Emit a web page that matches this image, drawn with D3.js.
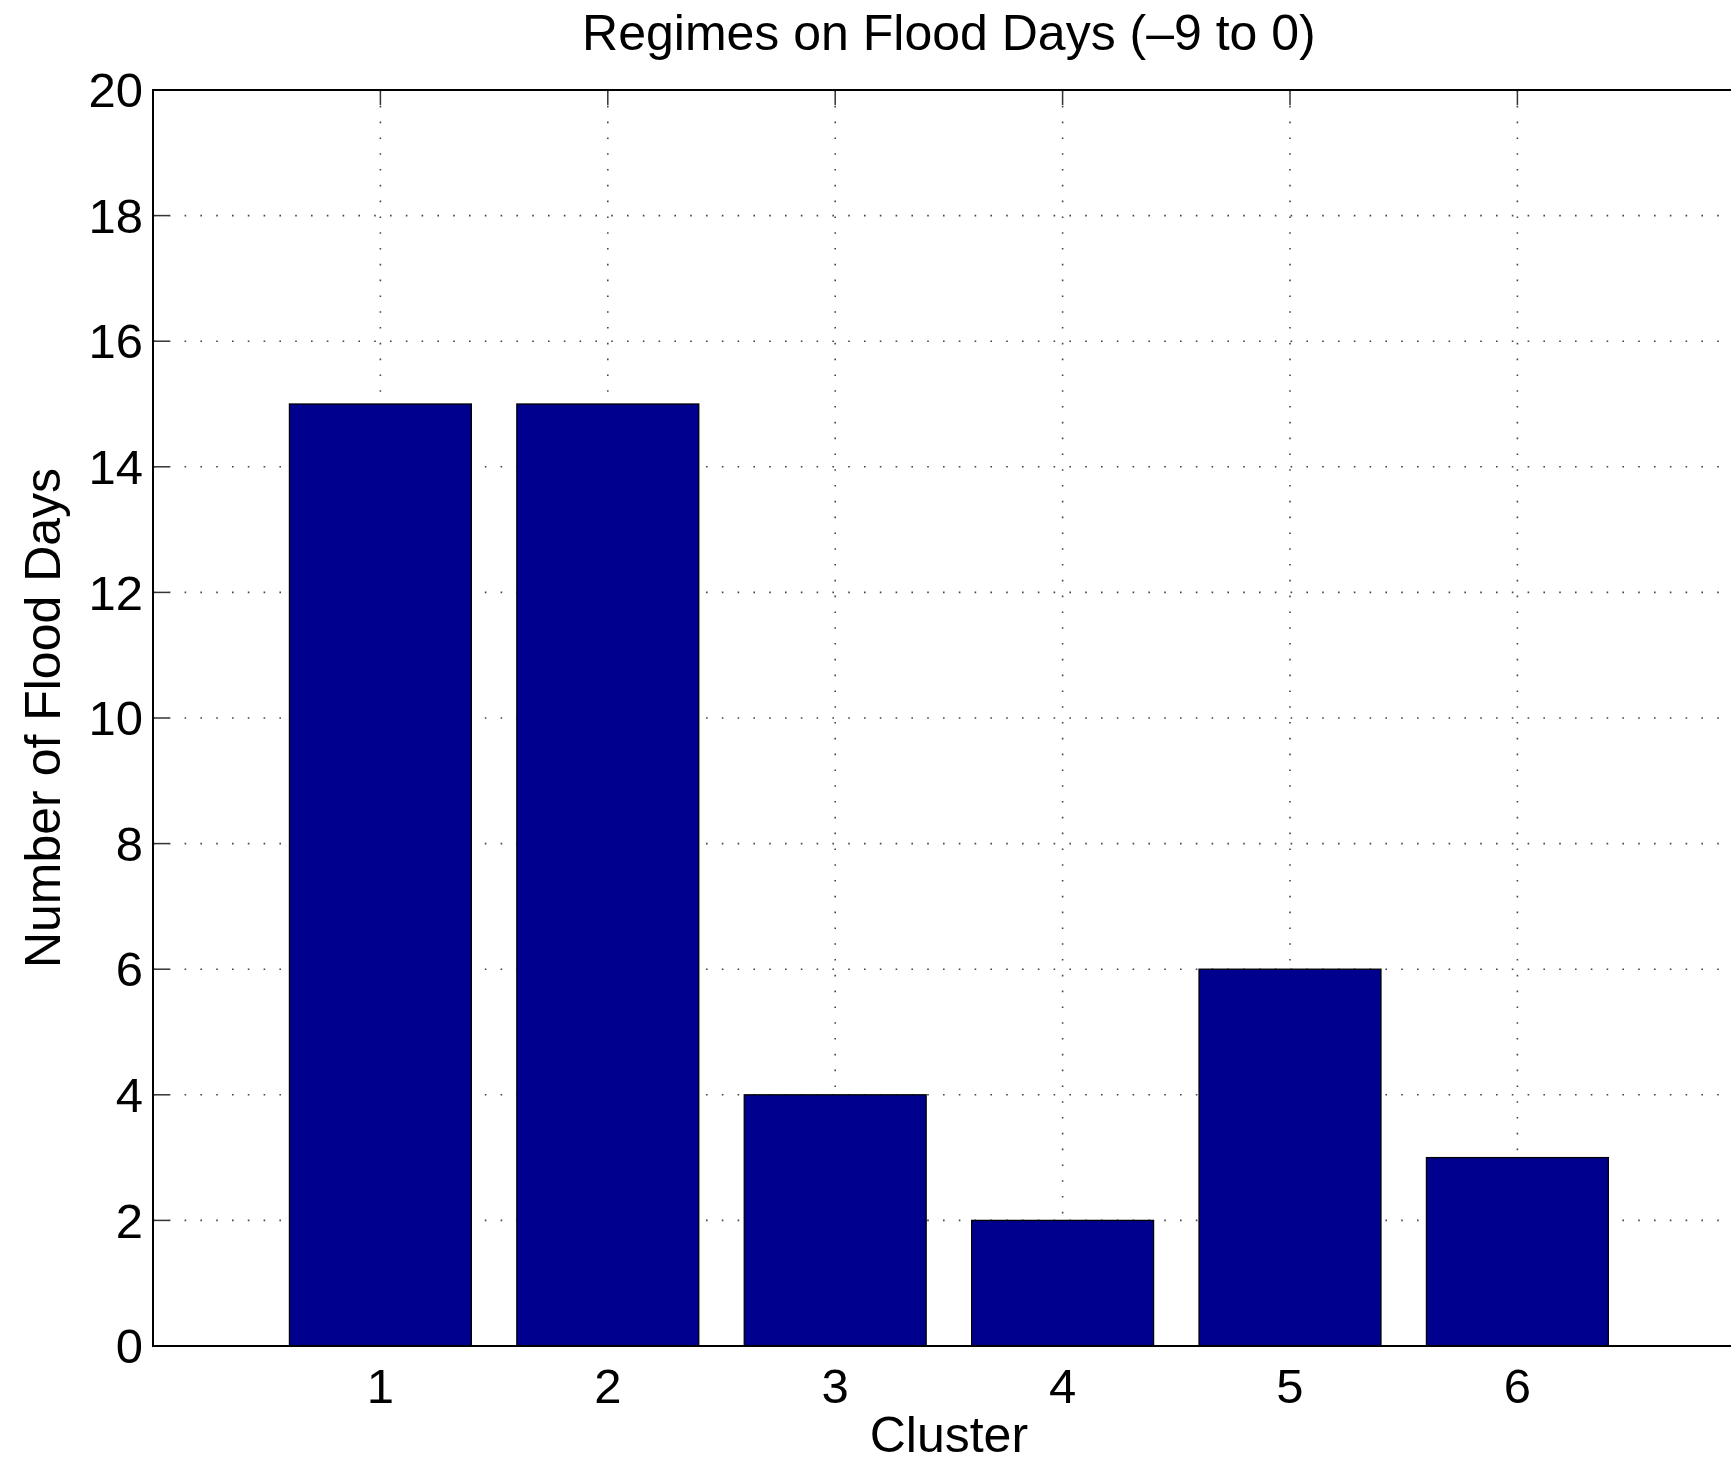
<!DOCTYPE html>
<html>
<head>
<meta charset="utf-8">
<script src="https://cdn.jsdelivr.net/npm/d3@7"></script>
<style>
html,body{margin:0;padding:0;background:#fff;overflow:hidden;}
text{font-family:"Liberation Sans",Arial,Helvetica,sans-serif;fill:#000;}
</style>
</head>
<body>
<svg id="chart" width="1731" height="1459"></svg>
<script>
const categories = [1, 2, 3, 4, 5, 6];
const values = [15, 15, 4, 2, 6, 3];
const yTicks = [0, 2, 4, 6, 8, 10, 12, 14, 16, 18, 20];
const title = "Regimes on Flood Days (\u20139 to 0)";
const xLabel = "Cluster";
const yLabel = "Number of Flood Days";

const W = 1731, H = 1459;
const pLeft = 153, pTop = 90, pBottom = 1346;
const unit = 227.4;
const pRight = pLeft + 7 * unit;

const svg = d3.select("#chart");
const x = d3.scaleLinear().domain([0, 7]).range([pLeft, pRight]);
const y = d3.scaleLinear().domain([0, 20]).range([pBottom, pTop]);
const barW = 0.8;

// grid
const grid = svg.append("g");
grid.selectAll("line.h").data(yTicks.filter(d => d > 0 && d < 20)).enter().append("line")
  .attr("x1", pLeft).attr("x2", pRight)
  .attr("y1", d => y(d)).attr("y2", d => y(d))
  .attr("stroke", "#444").attr("stroke-width", 1.6).attr("stroke-dasharray", "1.6,14.2");
grid.selectAll("line.v").data(categories).enter().append("line")
  .attr("x1", d => x(d)).attr("x2", d => x(d))
  .attr("y1", pTop).attr("y2", pBottom)
  .attr("stroke", "#444").attr("stroke-width", 1.6).attr("stroke-dasharray", "1.6,14.2");

// ticks (inward), top, bottom and left
const tk = svg.append("g");
tk.selectAll("line.t").data(categories).enter().append("line")
  .attr("x1", d => x(d)).attr("x2", d => x(d))
  .attr("y1", pTop).attr("y2", pTop + 15)
  .attr("stroke", "#333").attr("stroke-width", 1.5);
tk.selectAll("line.b").data(categories).enter().append("line")
  .attr("x1", d => x(d)).attr("x2", d => x(d))
  .attr("y1", pBottom).attr("y2", pBottom - 15)
  .attr("stroke", "#333").attr("stroke-width", 1.5);
tk.selectAll("line.l").data(yTicks).enter().append("line")
  .attr("x1", pLeft).attr("x2", pLeft + 16)
  .attr("y1", d => y(d)).attr("y2", d => y(d))
  .attr("stroke", "#333").attr("stroke-width", 1.5);

// bars
svg.append("g").selectAll("rect").data(values).enter().append("rect")
  .attr("x", (d, i) => x(categories[i] - barW / 2))
  .attr("width", x(barW) - x(0))
  .attr("y", d => y(d))
  .attr("height", d => y(0) - y(d))
  .attr("fill", "rgb(0,0,143)")
  .attr("stroke", "#000").attr("stroke-width", 1.3);

// axis box lines
const box = [[pLeft, pTop, pRight, pTop], [pLeft, pBottom, pRight, pBottom],
             [pLeft, pTop, pLeft, pBottom], [pRight, pTop, pRight, pBottom]];
svg.append("g").selectAll("line").data(box).enter().append("line")
  .attr("x1", d => d[0]).attr("y1", d => d[1]).attr("x2", d => d[2]).attr("y2", d => d[3])
  .attr("stroke", "#000").attr("stroke-width", 2).attr("stroke-linecap", "square");

// tick labels
svg.append("g").selectAll("text").data(yTicks).enter().append("text")
  .attr("x", pLeft - 10).attr("y", d => y(d)).attr("dy", "0.35em")
  .attr("text-anchor", "end").attr("font-size", 49).text(d => d);
svg.append("g").selectAll("text").data(categories).enter().append("text")
  .attr("x", d => x(d)).attr("y", 1403)
  .attr("text-anchor", "middle").attr("font-size", 49).text(d => d);

// labels
svg.append("text").attr("x", (pLeft + pRight) / 2).attr("y", 1452)
  .attr("text-anchor", "middle").attr("font-size", 50).text(xLabel);
svg.append("text").attr("transform", `translate(60,${(pTop + pBottom) / 2}) rotate(-90)`)
  .attr("text-anchor", "middle").attr("font-size", 50).text(yLabel);
svg.append("text").attr("x", (pLeft + pRight) / 2).attr("y", 50)
  .attr("text-anchor", "middle").attr("font-size", 50).text(title);
</script>
</body>
</html>
